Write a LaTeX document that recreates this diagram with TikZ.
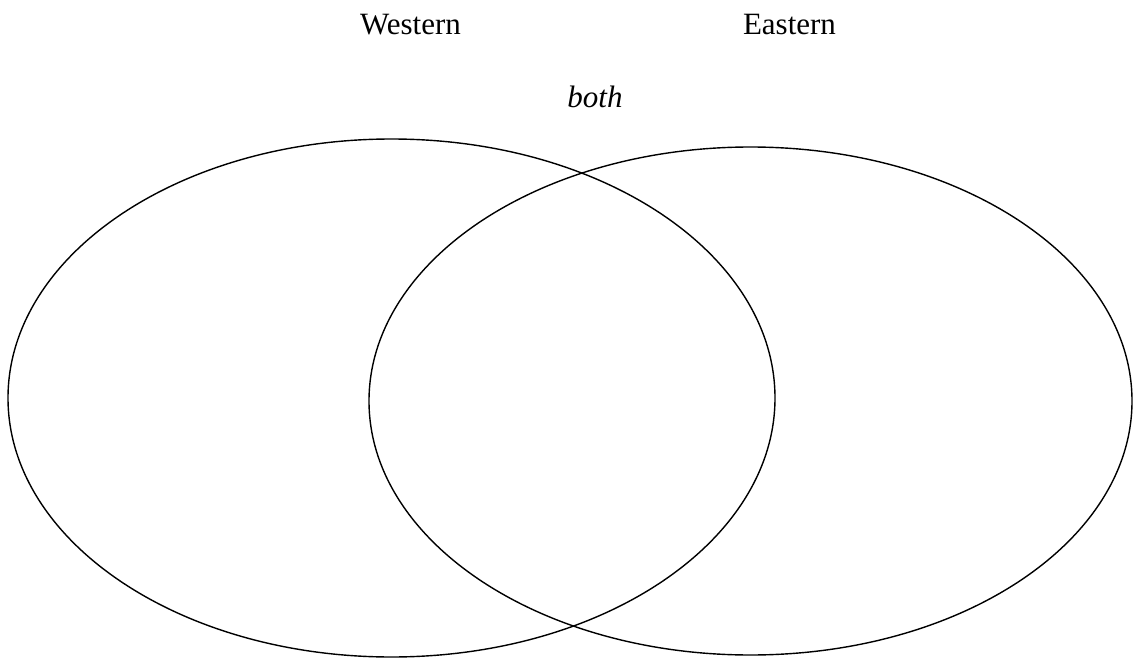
\documentclass[tikz,border=0pt]{standalone}
\usepackage{fontspec}
\setmainfont{Liberation Serif}
\usetikzlibrary{shapes.geometric}
\begin{document}
\begin{tikzpicture}[x=1pt,y=-1pt,
  venn/.style={draw=black,line width=1.4pt,ellipse,inner sep=0pt,outer sep=0pt},
  lbl/.style={inner sep=0pt,anchor=base,font=\fontsize{31}{36}\selectfont}]
\useasboundingbox (0,0) rectangle (1133,658);
\node[venn,minimum width=767pt,minimum height=518pt] (west) at (391.5,398) {};
\node[venn,minimum width=763pt,minimum height=508pt] (east) at (750.5,401) {};
\node[lbl] (wlabel) at (410.5,35) {Western};
\node[lbl] (elabel) at (789.5,35) {Eastern};
\node[lbl,font=\fontsize{31}{36}\selectfont\itshape] (both) at (595,108) {both};
\end{tikzpicture}
\end{document}
